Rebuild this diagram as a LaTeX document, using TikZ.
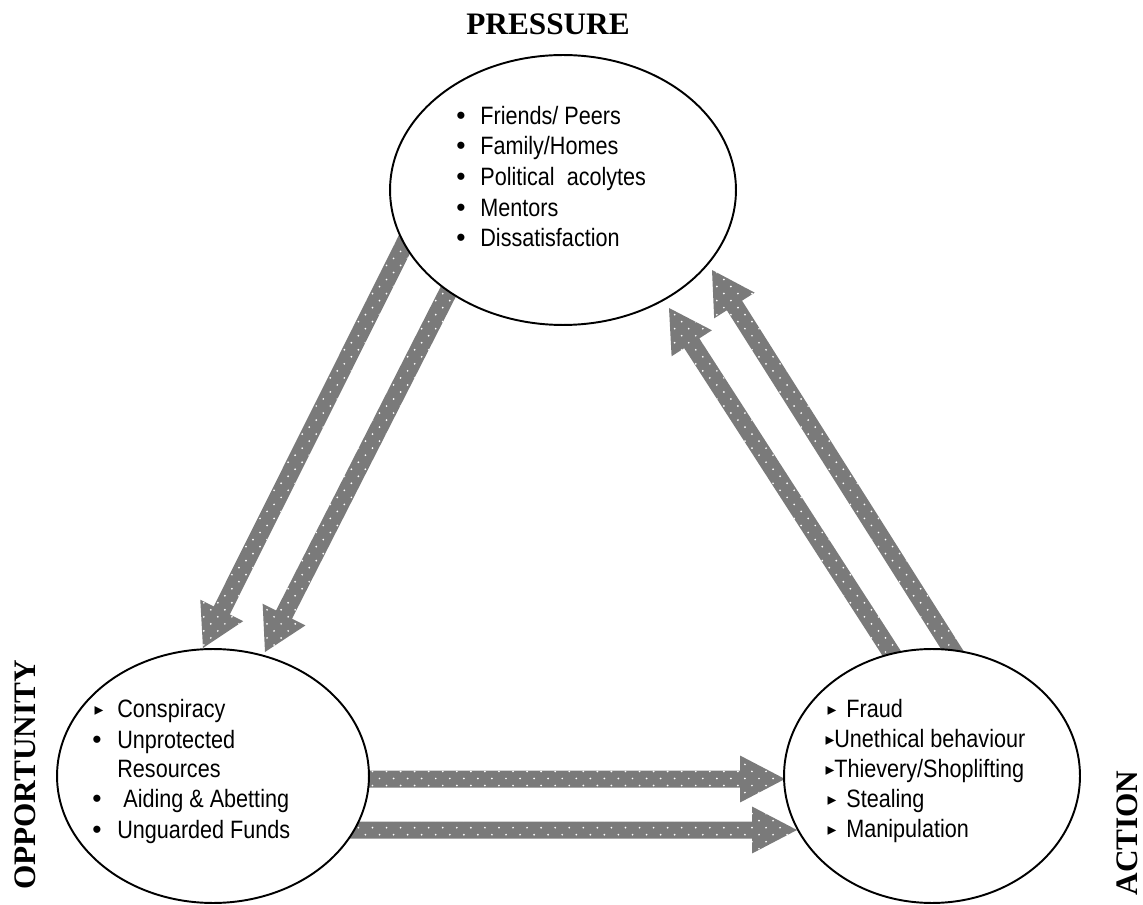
\documentclass[tikz,border=0pt]{standalone}
\usepackage{fontspec}
\setmainfont{Liberation Sans}
\newfontfamily\itemfont[FakeStretch=0.86]{Liberation Sans}
\newfontfamily\bulfont{Liberation Sans}
\newfontfamily\lblfont{Liberation Serif}
\newfontfamily\dvfont{DejaVu Sans}
\usetikzlibrary{shapes.geometric,calc,patterns}
\pgfdeclarepatternformonly{sparsedots}{\pgfqpoint{-1pt}{-1pt}}{\pgfqpoint{7pt}{7pt}}{\pgfqpoint{8pt}{8pt}}{%
  \pgfpathcircle{\pgfqpoint{0pt}{0pt}}{0.55pt}%
  \pgfpathcircle{\pgfqpoint{4pt}{4pt}}{0.55pt}%
  \pgfusepath{fill}}
% #1 start, #2 tip, #3 half shaft width, #4 head length, #5 half head width
\newcommand\blockarrow[5]{%
  \coordinate (hb) at ($(#2)!#4!(#1)$);
  \path[blockfill] ($(#1)!#3!90:(#2)$) -- ($(hb)!#3!90:(#2)$) -- ($(hb)!#5!90:(#2)$)
    -- (#2) -- ($(hb)!#5!-90:(#2)$) -- ($(hb)!#3!-90:(#2)$) -- ($(#1)!#3!-90:(#2)$) -- cycle;
}
\begin{document}
\begin{tikzpicture}[x=0.02cm,y=-0.02cm,
  oval/.style={ellipse, draw, line width=1.1pt, fill=white, inner sep=0pt},
  item/.style={anchor=base west, inner sep=0pt, font=\itemfont\fontsize{14.3pt}{16pt}\selectfont},
  dot/.style={anchor=base, inner sep=0pt, font=\bulfont\fontsize{15pt}{16pt}\selectfont},
  tri/.style={anchor=base, inner sep=0pt, font=\dvfont\fontsize{10pt}{12pt}\selectfont},
  lbl/.style={inner sep=0pt, font=\lblfont\bfseries\fontsize{17.8pt}{20pt}\selectfont},
  blockfill/.style={fill=black!52, postaction={pattern=sparsedots, pattern color=white}}]
\useasboundingbox (0,0) rectangle (1143,905);

% connector end points
\coordinate (a1s) at (430,193); \coordinate (a1t) at (203,648);
\coordinate (a2s) at (472,245); \coordinate (a2t) at (265,652);
\coordinate (a3s) at (905,674); \coordinate (a3t) at (669,308);
\coordinate (a4s) at (970,678); \coordinate (a4t) at (712,270);
\coordinate (a5s) at (330,779); \coordinate (a5t) at (785,779);
\coordinate (a6s) at (330,830); \coordinate (a6t) at (797,830);

\blockarrow{a1s}{a1t}{0.18cm}{0.84cm}{0.48cm}
\blockarrow{a2s}{a2t}{0.18cm}{0.84cm}{0.48cm}
\blockarrow{a3s}{a3t}{0.18cm}{0.84cm}{0.48cm}
\blockarrow{a4s}{a4t}{0.18cm}{0.84cm}{0.48cm}
\blockarrow{a5s}{a5t}{0.17cm}{0.9cm}{0.47cm}
\blockarrow{a6s}{a6t}{0.17cm}{0.9cm}{0.47cm}

% ellipses
\node[oval, minimum width=6.92cm, minimum height=5.4cm] (pressure) at (563,190) {};
\node[oval, minimum width=6.24cm, minimum height=5.08cm] (opportunity) at (213,776) {};
\node[oval, minimum width=5.92cm, minimum height=5.08cm] (action) at (932,776) {};

% labels
\node[lbl] (lp) at (548,24) {PRESSURE};
\node[lbl, rotate=90] (lo) at (25,775) {OPPORTUNITY};
\node[lbl, rotate=90] (la) at (1127,833) {ACTION};

% pressure items
\node[dot] (pb1) at (461,125) {•}; \node[item] (p1) at (480,125) {Friends/ Peers};
\node[dot] (pb2) at (461,155) {•}; \node[item] (p2) at (480,155) {Family/Homes};
\node[dot] (pb3) at (461,186) {•}; \node[item] (p3) at (480,186) {Political\ \ acolytes};
\node[dot] (pb4) at (461,217) {•}; \node[item] (p4) at (480,217) {Mentors};
\node[dot] (pb5) at (461,247) {•}; \node[item] (p5) at (480,247) {Dissatisfaction};

% opportunity items
\node[tri] (ob1) at (99,715) {▸}; \node[item] (o1) at (117,717) {Conspiracy};
\node[dot] (ob2) at (97,748) {•}; \node[item] (o2) at (117,748) {Unprotected};
\node[item] (o3) at (117,777) {Resources};
\node[dot] (ob4) at (97,807) {•}; \node[item] (o4) at (123,807) {Aiding \& Abetting};
\node[dot] (ob5) at (97,838) {•}; \node[item] (o5) at (117,838) {Unguarded Funds};

% action items
\node[tri] (ab1) at (832,715) {▸}; \node[item] (x1) at (846,717) {Fraud};
\node[tri] (ab2) at (830,745) {▸}; \node[item] (x2) at (834,747) {Unethical behaviour};
\node[tri] (ab3) at (830,775) {▸}; \node[item] (x3) at (834,777) {Thievery/Shoplifting};
\node[tri] (ab4) at (832,805) {▸}; \node[item] (x4) at (846,807) {Stealing};
\node[tri] (ab5) at (832,835) {▸}; \node[item] (x5) at (846,837) {Manipulation};
\end{tikzpicture}
\end{document}
